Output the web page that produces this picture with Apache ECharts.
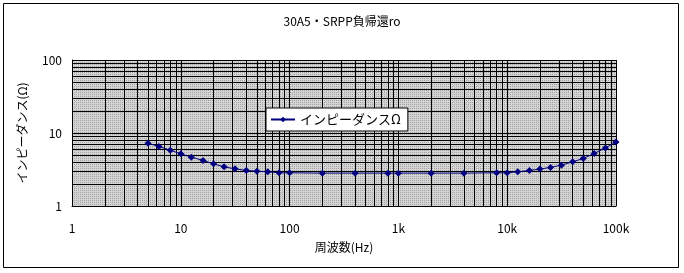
<!DOCTYPE html>
<html><head><meta charset="utf-8">
<script src="https://cdn.jsdelivr.net/npm/echarts@6/dist/echarts.min.js"></script>
<style>html,body{margin:0;padding:0;background:#fff}#c{width:684px;height:273px}</style>
</head><body><div id="c"></div>
<script>
const titleText = '30A5・SRPP負帰還ro';
const seriesName = 'インピーダンスΩ';
const xName = '周波数(Hz)';
const yName = 'インピーダンス(Ω)';
const freqs = [5, 6.3, 8, 10, 12.5, 16, 20, 25, 31.5, 40, 50, 63, 80, 100, 200, 400, 800, 1000, 2000, 4000, 8000, 10000, 12500, 16000, 20000, 25000, 31500, 40000, 50000, 63000, 80000, 100000];
const impedance = [7.24, 6.53, 5.81, 5.18, 4.67, 4.21, 3.78, 3.44, 3.23, 3.07, 3.0, 2.94, 2.85, 2.85, 2.82, 2.82, 2.82, 2.82, 2.82, 2.82, 2.85, 2.85, 2.94, 3.07, 3.2, 3.38, 3.63, 4.03, 4.48, 5.24, 6.25, 7.55];
const xTickValues = [1, 10, 100, 1000, 10000, 100000];
const xTickLabels = ['1', '10', '100', '1k', '10k', '100k'];
const yTickValues = [1, 10, 100];
const yTickLabels = ['1', '10', '100'];
const minorMultipliers = [2, 3, 4, 5, 6, 7, 8, 9];

const xMinor = [];
xTickValues.slice(0, -1).forEach(d => minorMultipliers.forEach(m => xMinor.push(d * m)));
const yMinor = [];
yTickValues.slice(0, -1).forEach(d => minorMultipliers.forEach(m => yMinor.push(d * m)));

// dotted gray pattern
const pc = document.createElement('canvas');
pc.width = 2; pc.height = 2;
const pctx = pc.getContext('2d');
pctx.fillStyle = '#d4d4d4'; pctx.fillRect(0, 0, 2, 2);
pctx.fillStyle = '#a4a4a4'; pctx.fillRect(0, 0, 1, 1);

const font = '"Noto Sans CJK JP", sans-serif';
const chart = echarts.init(document.getElementById('c'), null, {renderer: 'canvas'});
chart.setOption({
  animation: false,
  textStyle: {fontFamily: font},
  title: {text: titleText, left: 'center', top: 10, textStyle: {fontSize: 12, fontWeight: 'normal', color: '#000', fontFamily: font}},
  graphic: [{type: 'rect', shape: {x: 3.5, y: 3.5, width: 675, height: 264}, style: {fill: null, stroke: '#000', lineWidth: 1}, silent: true, z: 100}],
  grid: {left: 72, right: 68, top: 60, bottom: 67, show: true, backgroundColor: {image: pc, repeat: 'repeat'}, borderWidth: 0},
  legend: {
    data: [seriesName], left: 266, top: 108, orient: 'horizontal',
    backgroundColor: '#fff', borderColor: '#000', borderWidth: 1, borderRadius: 0,
    padding: [5, 7, 5, 4], itemWidth: 24, itemHeight: 7, itemGap: 4,
    textStyle: {fontSize: 13, color: '#000', fontFamily: font}
  },
  xAxis: {
    type: 'log', logBase: 10, min: 1, max: 100000,
    name: xName, nameLocation: 'middle', nameGap: 35, nameTextStyle: {fontSize: 12, color: '#000'},
    axisLine: {show: true, lineStyle: {color: '#000', width: 1}},
    axisTick: {show: false},
    axisLabel: {color: '#000', fontSize: 12, margin: 16, formatter: v => { const i = xTickValues.indexOf(Math.round(v)); return i >= 0 ? xTickLabels[i] : ''; }},
    splitLine: {show: true, lineStyle: {color: '#000', width: 1}}
  },
  yAxis: {
    type: 'log', logBase: 10, min: 1, max: 100,
    name: yName, nameLocation: 'middle', nameGap: 44, nameRotate: 90, nameTextStyle: {fontSize: 12, color: '#000'},
    axisLine: {show: true, lineStyle: {color: '#000', width: 1}},
    axisTick: {show: false},
    axisLabel: {color: '#000', fontSize: 12, margin: 10, formatter: v => { const i = yTickValues.indexOf(Math.round(v)); return i >= 0 ? yTickLabels[i] : ''; }},
    splitLine: {show: true, lineStyle: {color: '#000', width: 1}}
  },
  series: [{
    name: seriesName, type: 'line',
    data: freqs.map((f, i) => [f, impedance[i]]),
    symbol: 'diamond', symbolSize: 7, showSymbol: true,
    lineStyle: {color: '#000080', width: 1},
    itemStyle: {color: '#000080'},
    z: 10,
    markLine: {
      silent: true, symbol: 'none', label: {show: false}, z: 1,
      lineStyle: {color: '#000', width: 1, type: 'solid'},
      emphasis: {disabled: true},
      data: xMinor.map(v => ({xAxis: v})).concat(yMinor.map(v => ({yAxis: v})))
    }
  }]
});
</script></body></html>
